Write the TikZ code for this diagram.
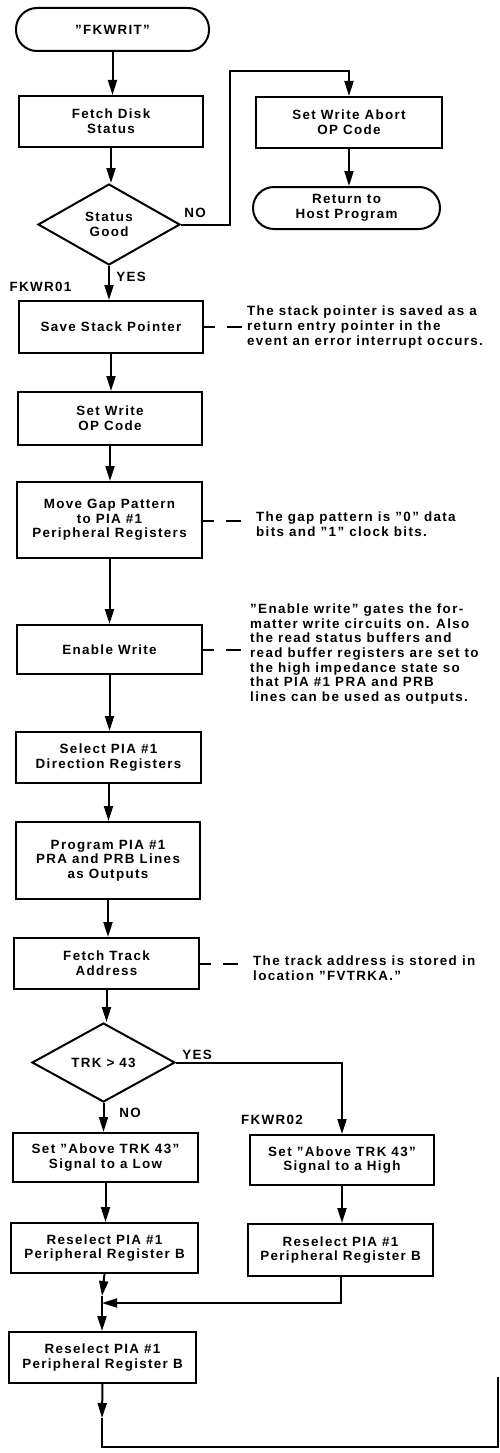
\documentclass[tikz,border=0pt]{standalone}
\usepackage{fontspec}
\setmainfont[LetterSpace=10]{Liberation Sans}
\usetikzlibrary{shapes.geometric,arrows.meta}
\begin{document}
\begin{tikzpicture}[x=1pt,y=-1pt,
  every node/.style={font=\fontsize{13.4}{14.7}\selectfont\bfseries},
  box/.style={draw, line width=2pt, inner sep=0pt, align=center},
  term/.style={box, rounded corners=21pt},
  dec/.style={draw, diamond, line width=2pt, inner sep=0pt, align=center},
  line/.style={line width=2pt},
  arr/.style={line width=2pt, -{Triangle[length=15pt,width=9pt]}},
  note/.style={dash pattern=on 11pt off 12pt on 15pt off 200pt, line width=2pt},
  anno/.style={align=left, inner sep=0pt, anchor=west},
  lab/.style={inner sep=0pt}]
\useasboundingbox (0,0) rectangle (499,1453);

% nodes
\node[term, minimum width=193pt, minimum height=43pt] (start) at (112.5,29.5) {''FKWRIT''};
\node[box, minimum width=184pt, minimum height=51pt] (fetch) at (111,121.5) {Fetch Disk\\Status};
\node[dec, minimum width=142pt, minimum height=81pt] (status) at (109,224.5) {Status\\Good};
\node[box, minimum width=186pt, minimum height=51pt] (abort) at (349,122.5) {Set Write Abort\\OP Code};
\node[term, minimum width=187pt, minimum height=42pt] (ret) at (346.5,208) {Return to\\Host Program};
\node[box, minimum width=184pt, minimum height=52pt] (save) at (111,327) {Save Stack Pointer};
\node[box, minimum width=184pt, minimum height=53pt] (setw) at (110,418.5) {Set Write\\OP Code};
\node[box, minimum width=185pt, minimum height=76pt] (gap) at (109.5,520) {Move Gap Pattern\\to PIA \#1\\Peripheral Registers};
\node[box, minimum width=185pt, minimum height=49pt] (enable) at (109.5,649.5) {Enable Write};
\node[box, minimum width=185pt, minimum height=51pt] (select) at (108.5,757.5) {Select PIA \#1\\Direction Registers};
\node[box, minimum width=184pt, minimum height=77pt] (prog) at (108,860.5) {Program PIA \#1\\PRA and PRB Lines\\as Outputs};
\node[box, minimum width=185pt, minimum height=51pt] (track) at (106.5,963.5) {Fetch Track\\Address};
\node[dec, minimum width=143pt, minimum height=79pt] (trk) at (103.5,1062.5) {TRK > 43};
\node[box, minimum width=185pt, minimum height=49pt] (low) at (105.5,1157.5) {Set ''Above TRK 43''\\Signal to a Low};
\node[box, minimum width=184pt, minimum height=50pt] (high) at (342,1160) {Set ''Above TRK 43''\\Signal to a High};
\node[box, minimum width=187pt, minimum height=50pt] (resl) at (104.5,1248) {Reselect PIA \#1\\Peripheral Register B};
\node[box, minimum width=185pt, minimum height=52pt] (resr) at (340.5,1250) {Reselect PIA \#1\\Peripheral Register B};
\node[box, minimum width=187pt, minimum height=51pt] (resf) at (102.5,1357.5) {Reselect PIA \#1\\Peripheral Register B};

% labels
\node[lab] (no1) at (195,213) {NO};
\node[lab] (yes1) at (131,277) {YES};
\node[lab] (fk1) at (40.5,287) {FKWR01};
\node[lab] (yes2) at (197,1055) {YES};
\node[lab] (no2) at (130,1113) {NO};
\node[lab] (fk2) at (272,1120) {FKWR02};

% annotations
\node[anno] (a1) at (247,327) {The stack pointer is saved as a\\return entry pointer in the\\event an error interrupt occurs.};
\node[anno] (a2) at (256,524.5) {The gap pattern is ''0'' data\\bits and ''1'' clock bits.};
\node[anno] (a3) at (250,654) {''Enable write'' gates the for-\\matter write circuits on. Also\\the read status buffers and\\read buffer registers are set to\\the high impedance state so\\that PIA \#1 PRA and PRB\\lines can be used as outputs.};
\node[anno] (a4) at (253,968.5) {The track address is stored in\\location ''FVTRKA.''};

% connectors
\draw[arr] (start.south) -- (start.south |- fetch.north);
\draw[arr] (fetch.south) -- (fetch.south |- status.north);
\coordinate (nt) at (230,71);
\draw[arr] (status.east) -| (nt) -| (abort.north);
\draw[arr] (abort.south) -- (abort.south |- ret.north);
\draw[arr] (status.south) -- (status.south |- save.north);
\draw[arr] (save.south) -- (save.south |- setw.north);
\draw[arr] (setw.south) -- (setw.south |- gap.north);
\draw[arr] (gap.south) -- (gap.south |- enable.north);
\draw[arr] (enable.south) -- (enable.south |- select.north);
\draw[arr] (select.south) -- (select.south |- prog.north);
\draw[arr] (prog.south) -- (prog.south |- track.north);
\draw[arr] (track.south) -- (track.south |- trk.north);
\draw[arr] (trk.south) -- (trk.south |- low.north);
\draw[arr] (trk.east) -| (high.north);
\draw[arr] (low.south) -- (low.south |- resl.north);
\draw[arr] (high.south) -- (high.south |- resr.north);
\coordinate (jt) at (102,1296);
\coordinate (j) at (102,1303);
\draw[arr] (resl.south) -- (jt);
\draw[line] (jt) -- (j);
\draw[arr] (resr.south) |- (j);
\draw[arr] (j) -- (j |- resf.north);
\coordinate (m) at (102,1418);
\coordinate (c1) at (102,1447);
\coordinate (c2) at (498,1447);
\coordinate (c3) at (498,1377);
\draw[arr] (resf.south) -- (m);
\draw[line] (m) -- (c1) -- (c2) -- (c3);

% note links
\draw[note] (save.east) -- ++(40,0);
\draw[note] (gap.east) ++(0,1) -- ++(40,0);
\draw[note] (enable.east) -- ++(40,0);
\draw[note] (track.east) -- ++(40,0);
\end{tikzpicture}
\end{document}
